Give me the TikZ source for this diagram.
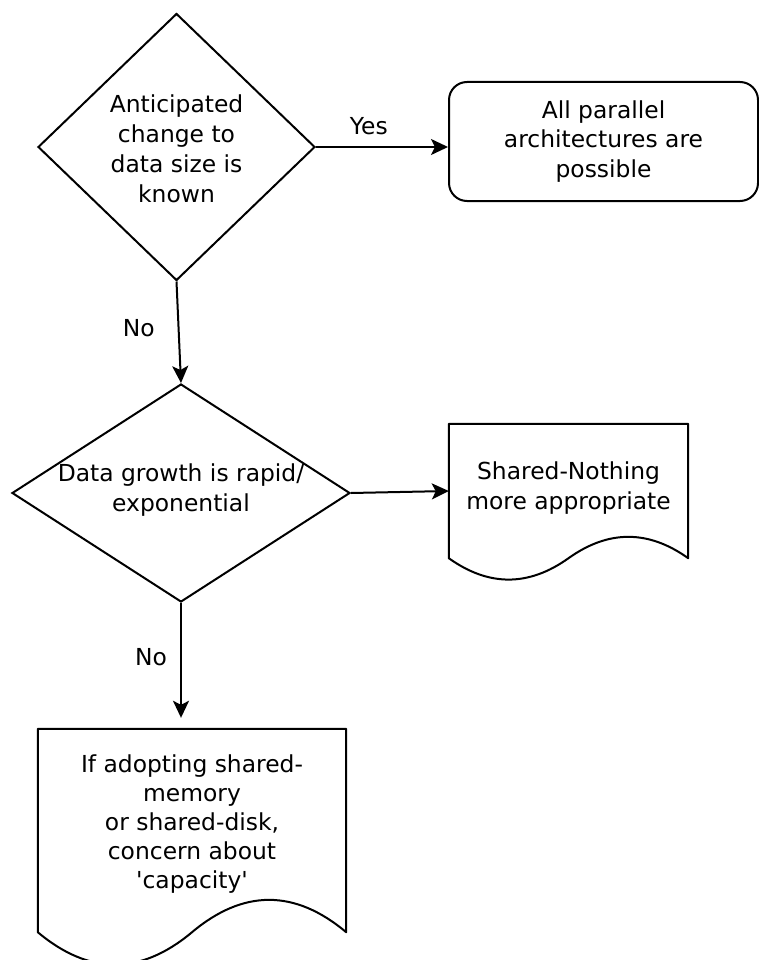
\documentclass[tikz,border=0pt]{standalone}
\usepackage{fontspec}
\setmainfont{DejaVu Sans}
\usetikzlibrary{shapes.geometric,arrows.meta,calc}

% outline of a document shape with a wavy bottom, drawn round node #1
\newcommand{\docoutline}[1]{%
  \draw[line width=2pt, line join=round] let \p1=(#1.south west), \p2=(#1.north east) in
    (\x1,\y2) -- (\x2,\y2) -- (\x2,\y1)
    .. controls ({\x2-(\x2-\x1)/6},{\y1+0.212*(\y2-\y1)}) and ({\x2-(\x2-\x1)/3},{\y1+0.212*(\y2-\y1)}) .. ({(\x1+\x2)/2},\y1)
    .. controls ({\x1+(\x2-\x1)/3},{\y1-0.212*(\y2-\y1)}) and ({\x1+(\x2-\x1)/6},{\y1-0.212*(\y2-\y1)}) .. (\x1,\y1)
    -- cycle;}

\begin{document}
\begin{tikzpicture}[x=1pt, y=-1pt,
    font=\fontsize{23.4}{29.5}\selectfont,
    every node/.style={align=center},
    decision/.style={diamond, draw, line width=2pt, inner sep=0pt},
    outcome/.style={rectangle, rounded corners=18pt, draw, line width=2pt},
    document/.style={rectangle, inner sep=0pt},
    flow/.style={-{Stealth[length=17pt, width=16pt, inset=4pt]}, line width=2pt},
    lbl/.style={inner sep=3pt}]

    \path[fill=white, use as bounding box] (0,0) rectangle (759,960);

    \node[decision, minimum width=277pt, minimum height=267pt] (known) at (176.5,147) {};
    \node[font=\fontsize{23.4}{30}\selectfont, yshift=-2pt] (knowntext) at (known)
        {Anticipated\\change to\\data size is\\known};
    \node[outcome, minimum width=309pt, minimum height=119pt] (allpar) at (603.5,141.5)
        {All parallel\\architectures are\\possible};

    \node[decision, minimum width=338pt, minimum height=218pt] (growth) at (181,493) {};
    \node[yshift=3pt] (growthtext) at (growth) {Data growth is rapid/\\exponential};

    \node[document, minimum width=239pt, minimum height=134pt] (nothing) at (568.5,491) {};
    \node[yshift=3pt] (nothingtext) at (nothing) {Shared-Nothing\\more appropriate};
    \node[document, minimum width=308pt, minimum height=203pt] (capacity) at (192,830.5) {};
    \node[font=\fontsize{23.4}{29}\selectfont, yshift=6pt] (capacitytext) at (capacity)
        {If adopting shared-\\memory\\or shared-disk,\\concern about\\\textquotesingle capacity\textquotesingle};
    \docoutline{nothing}
    \docoutline{capacity}

    \draw[flow] (known.east) -- node[lbl, above=8pt, pos=0.4] (yes) {Yes} (known.east -| allpar.west);
    \draw[flow] (known.south) -- node[lbl, left=20pt, pos=0.46] (no1) {No} (growth.north);
    \draw[flow] (growth.east) -- (nothing.west);
    \draw[flow, shorten >=11pt] (growth.south) -- node[lbl, left=10pt, pos=0.43] (no2) {No} (growth.south |- capacity.north);
\end{tikzpicture}
\end{document}
